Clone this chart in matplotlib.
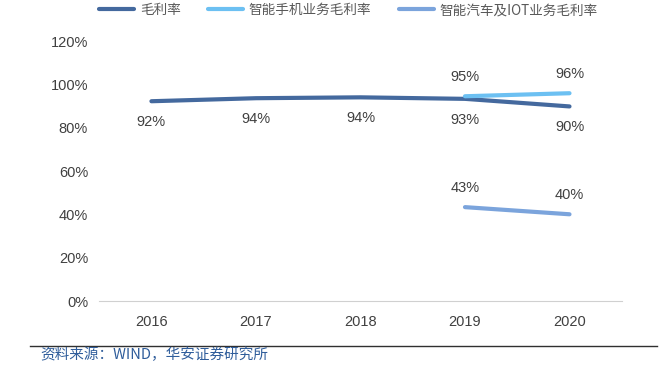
import matplotlib.pyplot as plt
from matplotlib.ticker import FuncFormatter

plt.rcParams['font.family'] = ['Liberation Sans', 'Noto Sans CJK SC', 'DejaVu Sans']

years = ['2016', '2017', '2018', '2019', '2020']
gross = [92.3, 93.7, 94.1, 93.4, 89.9]
gross_lbl = ['92%', '94%', '94%', '93%', '90%']
phone = [94.6, 96.0]
phone_lbl = ['95%', '96%']
iot = [43.4, 40.1]
iot_lbl = ['43%', '40%']
yticks = [0, 20, 40, 60, 80, 100, 120]

c_gross = '#44699e'
c_phone = '#6cc0f2'
c_iot = '#7ba4dc'
txt = '#404040'

fig = plt.figure(figsize=(6.7, 3.65), dpi=100)
ax = fig.add_axes([0.148, 0.175, 0.78, 0.712])

xs = list(range(len(years)))
ax.plot(xs, gross, color=c_gross, lw=3, label='毛利率', solid_capstyle='round')
ax.plot(xs[3:], phone, color=c_phone, lw=3, label='智能手机业务毛利率', solid_capstyle='round')
ax.plot(xs[3:], iot, color=c_iot, lw=3, label='智能汽车及IOT业务毛利率', solid_capstyle='round')

for x, v, s in zip(xs, gross, gross_lbl):
    ax.annotate(s, (x, v), xytext=(0, -15), textcoords='offset points',
                ha='center', va='center', fontsize=10.5, color=txt)
for x, v, s in zip(xs[3:], phone, phone_lbl):
    ax.annotate(s, (x, v), xytext=(0, 14), textcoords='offset points',
                ha='center', va='center', fontsize=10.5, color=txt)
for x, v, s in zip(xs[3:], iot, iot_lbl):
    ax.annotate(s, (x, v), xytext=(0, 14), textcoords='offset points',
                ha='center', va='center', fontsize=10.5, color=txt)

ax.set_xlim(-0.5, len(years) - 0.5)
ax.set_ylim(0, 120)
ax.set_yticks(yticks)
ax.yaxis.set_major_formatter(FuncFormatter(lambda v, p: f'{v:.0f}%'))
ax.set_xticks(xs)
ax.set_xticklabels(years)
ax.tick_params(axis='both', length=0, labelsize=10.5, labelcolor=txt)
ax.tick_params(axis='x', pad=10)
ax.tick_params(axis='y', pad=8)
for side in ['top', 'right', 'left']:
    ax.spines[side].set_visible(False)
ax.spines['bottom'].set_color('#d0d0d0')

leg = fig.legend(loc='upper center', bbox_to_anchor=(0.52, 1.025), ncol=3, frameon=False,
                 handlelength=2.6, columnspacing=2.0, handletextpad=0.4,
                 prop={'family': ['Noto Sans CJK SC', 'DejaVu Sans'], 'size': 9.8})
for t in leg.get_texts():
    t.set_color('#595959')

fig.add_artist(plt.Line2D([0.045, 0.98], [0.052, 0.052], transform=fig.transFigure,
                          color='#303030', lw=1))
fig.text(0.06, 0.028, '资料来源：WIND，华安证券研究所', fontsize=10.5, color='#2f5d9b',
         family=['Noto Sans CJK SC', 'DejaVu Sans'], va='center')

fig.savefig('out.png', dpi=100)
